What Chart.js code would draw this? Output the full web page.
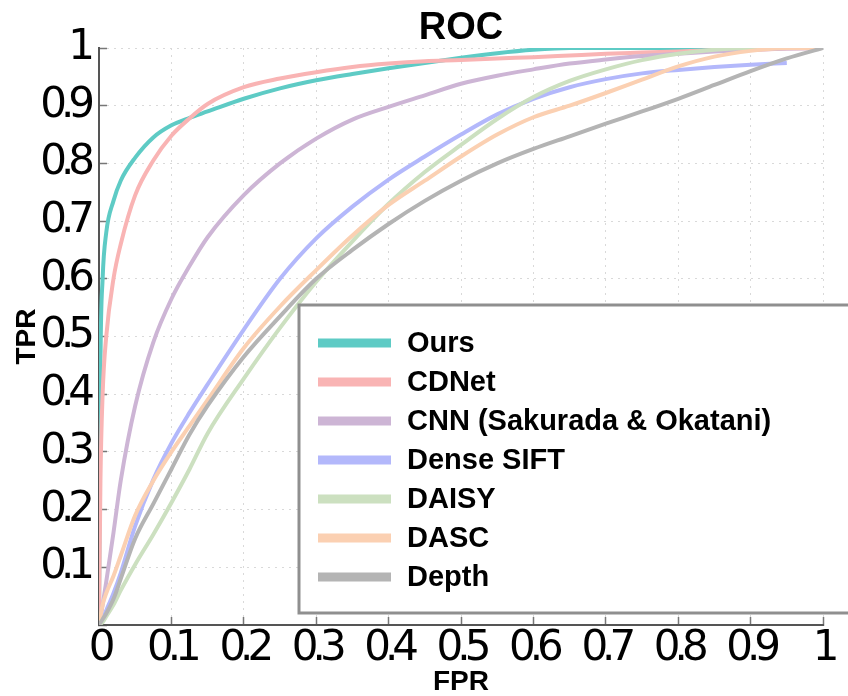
<!DOCTYPE html>
<html>
<head>
<meta charset="utf-8">
<script src="https://cdn.jsdelivr.net/npm/chart.js@4.4.1/dist/chart.umd.min.js"></script>
<style>
html,body{margin:0;padding:0;background:#fff;}
#c{display:block;}
</style>
</head>
<body>
<canvas id="c" width="848" height="696"></canvas>
<script>
// ---- data ----
const fpr      = [0,0.002,0.005,0.01,0.02,0.03,0.05,0.075,0.1,0.125,0.15,0.2,0.25,0.3,0.35,0.4,0.45,0.5,0.55,0.6,0.65,0.7,0.75,0.8,0.85,0.9,0.95,1];
const tprOurs  = [0,0.45,0.6,0.68,0.735,0.77,0.81,0.845,0.866,0.879,0.89,0.912,0.93,0.944,0.955,0.965,0.974,0.983,0.991,0.997,1,1,1,1,1,1,1,1];
const tprCDNet = [0,0.25,0.4,0.5,0.6,0.66,0.745,0.805,0.848,0.878,0.903,0.932,0.947,0.958,0.967,0.973,0.977,0.979,0.982,0.984,0.987,0.99,0.992,0.994,0.996,0.997,0.999,1];
const tprCNN   = [0,0.012,0.035,0.075,0.16,0.25,0.38,0.49,0.565,0.622,0.672,0.745,0.8,0.843,0.876,0.898,0.918,0.938,0.952,0.963,0.973,0.98,0.986,0.99,0.994,0.997,0.999,1];
const tprSIFT  = [0,0.004,0.01,0.025,0.055,0.09,0.172,0.252,0.315,0.368,0.417,0.512,0.6,0.67,0.725,0.772,0.812,0.85,0.885,0.912,0.932,0.946,0.956,0.962,0.967,0.971,0.974,null];
const tprDAISY = [0,0.002,0.005,0.015,0.035,0.06,0.105,0.157,0.212,0.27,0.332,0.427,0.515,0.595,0.665,0.73,0.785,0.832,0.877,0.915,0.943,0.963,0.979,0.99,0.997,1,1,1];
const tprDASC  = [0,0.015,0.035,0.055,0.085,0.12,0.19,0.25,0.3,0.345,0.39,0.48,0.552,0.615,0.675,0.728,0.77,0.812,0.85,0.88,0.9,0.922,0.945,0.968,0.985,0.995,1,1];
const tprDepth = [0,0.004,0.01,0.02,0.045,0.08,0.15,0.21,0.27,0.33,0.38,0.465,0.535,0.6,0.65,0.695,0.735,0.77,0.8,0.825,0.847,0.869,0.89,0.912,0.936,0.96,0.982,1];

const seriesNames  = ['Ours','CDNet','CNN (Sakurada & Okatani)','Dense SIFT','DAISY','DASC','Depth'];
const seriesValues = [tprOurs,tprCDNet,tprCNN,tprSIFT,tprDAISY,tprDASC,tprDepth];
const seriesColors = ['#5ecbc5','#f9b4b4','#cdb5d5','#b3b8fb','#cce0c0','#fbd0b2','#b4b4b4'];

const tickFont = '"DejaVu Sans", sans-serif';
const boldFont = '"Liberation Sans", Arial, sans-serif';

function toPoints(vals){
  const pts = [];
  fpr.forEach((x,i)=>{ if (vals[i] !== null && vals[i] !== undefined) pts.push({x:x, y:vals[i]}); });
  return pts;
}

const datasets = seriesNames.map((name,i)=>({
  label: name,
  data: toPoints(seriesValues[i]),
  borderColor: seriesColors[i],
  backgroundColor: seriesColors[i],
  borderWidth: 4,
  pointRadius: 0,
  fill: false,
  cubicInterpolationMode: 'monotone',
  order: seriesNames.length - i
}));

function fmt(v, hideZero){
  if (Math.abs(v) < 1e-9) return hideZero ? '' : '0';
  if (Math.abs(v-1) < 1e-9) return '1';
  return v.toFixed(1);
}

// tight tick-label spacing (the reference tick labels are set tightly)
const tightTicks = {
  id: 'tightTicks',
  beforeDraw(chart){
    Object.values(chart.scales).forEach(s=>{
      if (!s._tightPatched){
        const orig = s.drawLabels;
        s.drawLabels = function(area){
          const c = this.ctx; c.save(); c.letterSpacing = '-6px'; orig.call(this, area); c.restore();
        };
        s._tightPatched = true;
      }
    });
  }
};

// boxed legend in the lower right of the plot
const boxLegend = {
  id: 'boxLegend',
  afterDraw(chart){
    const ctx = chart.ctx;
    const ca = chart.chartArea;
    const left = ca.left + 200, top = ca.top + 257, bottom = ca.bottom - 12, right = chart.width + 4;
    ctx.save();
    ctx.letterSpacing = '0px';
    ctx.fillStyle = '#ffffff';
    ctx.fillRect(left, top, right-left, bottom-top);
    ctx.lineWidth = 3;
    ctx.strokeStyle = '#8f8f8f';
    ctx.strokeRect(left, top, right-left, bottom-top);
    ctx.font = 'bold 29px ' + boldFont;
    ctx.textBaseline = 'middle';
    ctx.textAlign = 'left';
    chart.data.datasets.forEach((ds,i)=>{
      const y = top + 38 + i*39;
      ctx.strokeStyle = ds.borderColor;
      ctx.lineWidth = 9;
      ctx.beginPath();
      ctx.moveTo(left + 19, y);
      ctx.lineTo(left + 92, y);
      ctx.stroke();
      ctx.fillStyle = '#000';
      ctx.fillText(ds.label, left + 108, y + 1);
    });
    ctx.restore();
  }
};

const gridCommon = {
  color: '#d9d9d9',
  lineWidth: 1,
  drawTicks: true,
  tickLength: -8,
  tickColor: '#777',
  tickWidth: 1.5
};

new Chart(document.getElementById('c'), {
  type: 'line',
  data: { datasets },
  options: {
    responsive: false,
    animation: false,
    events: [],
    layout: { padding: {left:0, right:25, top:0, bottom:0}, autoPadding: false },
    plugins: {
      legend: { display: false },
      tooltip: { enabled: false },
      title: {
        display: true,
        text: 'ROC',
        color: '#000',
        fullSize: false,
        font: { family: boldFont, size: 38, weight: 'bold', lineHeight: 1 },
        padding: { top: 10, bottom: 0 }
      }
    },
    scales: {
      x: {
        type: 'linear',
        min: 0, max: 1,
        afterFit(s){ s.height = 71; },
        ticks: {
          stepSize: 0.1,
          autoSkip: false,
          maxRotation: 0,
          padding: 11,
          color: '#000',
          font: { family: tickFont, size: 42, lineHeight: 1 },
          callback: v => fmt(v, false)
        },
        grid: gridCommon,
        border: { display: true, color: '#555', width: 2, dash: [2,5] },
        title: {
          display: true, text: 'FPR', color: '#000',
          font: { family: boldFont, size: 28, weight: 'bold', lineHeight: 1 },
          padding: { top: 0, bottom: 0 }
        }
      },
      y: {
        type: 'linear',
        min: 0, max: 1,
        afterFit(s){ s.width = 99; },
        ticks: {
          stepSize: 0.1,
          autoSkip: false,
          padding: 18,
          color: '#000',
          font: { family: tickFont, size: 42, lineHeight: 1 },
          callback: v => fmt(v, true)
        },
        grid: gridCommon,
        border: { display: true, color: '#555', width: 2, dash: [2,5] },
        title: {
          display: true, text: 'TPR', color: '#000',
          font: { family: boldFont, size: 28, weight: 'bold', lineHeight: 1 },
          padding: { top: 13, bottom: 0 }
        }
      }
    }
  },
  plugins: [tightTicks, boxLegend]
});
</script>
</body>
</html>
